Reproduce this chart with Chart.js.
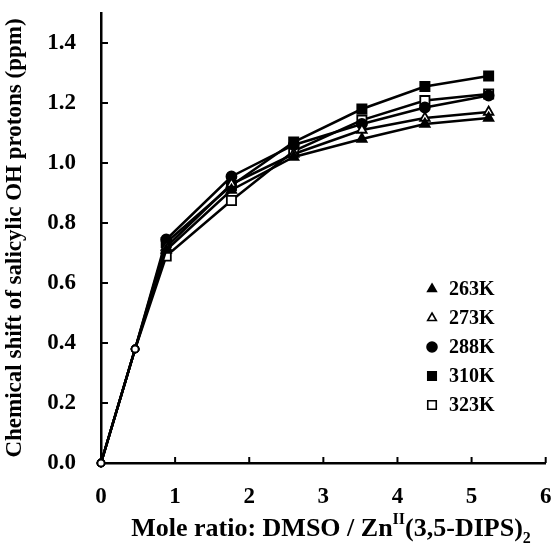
<!DOCTYPE html>
<html>
<head>
<meta charset="utf-8">
<script src="https://cdn.jsdelivr.net/npm/chart.js@4.4.1/dist/chart.umd.min.js"></script>
<style>
  html, body { margin: 0; padding: 0; background: #fff; }
  #wrap { width: 554px; height: 547px; }
</style>
</head>
<body>
<div id="wrap"><canvas id="shiftChart" width="554" height="547"></canvas></div>
<script>
// mole ratio DMSO / Zn(II)(3,5-DIPS)2
const moleRatio = [0, 0.46, 0.88, 1.76, 2.6, 3.52, 4.37, 5.23];

// chemical shift (ppm) for each temperature
const shift263 = [0, 0.38, 0.71, 0.91, 1.02, 1.08, 1.13, 1.15];
const shift273 = [0, 0.38, 0.72, 0.93, 1.03, 1.11, 1.15, 1.17];
const shift288 = [0, 0.38, 0.745, 0.955, 1.06, 1.13, 1.185, 1.225];
const shift310 = [0, 0.38, 0.735, 0.925, 1.07, 1.18, 1.255, 1.29];
const shift323 = [0, 0.38, 0.69, 0.875, 1.04, 1.143, 1.208, 1.23];

const seriesLabels = ["263K", "273K", "288K", "310K", "323K"];
const xTicks = [0, 1, 2, 3, 4, 5, 6];
const yTicks = [0, 0.2, 0.4, 0.6, 0.8, 1.0, 1.2, 1.4];

const yTitle = "Chemical shift of salicylic OH protons (ppm)";
const xTitleMain = "Mole ratio: DMSO / Zn";
const xTitleSup = "II";
const xTitleTail = "(3,5-DIPS)";
const xTitleSub = "2";

const serif = "'Liberation Serif', 'Times New Roman', serif";

// marker look per series: shape, filled?
const markers = [
  { shape: "triangle", filled: true, r: 5.5 },
  { shape: "triangle", filled: false, r: 5.5 },
  { shape: "circle", filled: true, r: 5 },
  { shape: "rect", filled: true, r: 6.5 },
  { shape: "rect", filled: false, r: 6.5 }
];
const allShifts = [shift263, shift273, shift288, shift310, shift323];

// the first two points overlap for every series and show as a small open circle
const early = c => c.dataIndex < 2;

const datasets = allShifts.map((vals, i) => ({
  label: seriesLabels[i],
  data: moleRatio.map((x, j) => ({ x: x, y: vals[j] })),
  borderColor: "#000",
  borderWidth: 2.5,
  pointStyle: c => early(c) ? "circle" : markers[i].shape,
  pointRadius: c => early(c) ? 3.5 : markers[i].r,
  pointBorderWidth: 1.8,
  pointBorderColor: "#000",
  pointBackgroundColor: c => (early(c) || !markers[i].filled) ? "#fff" : "#000",
  showLine: true,
  clip: false
}));

function drawMarker(ctx, m, x, y, r) {
  ctx.beginPath();
  if (m.shape === "circle") {
    ctx.arc(x, y, r, 0, Math.PI * 2);
  } else if (m.shape === "rect") {
    const s = r * Math.SQRT1_2;
    ctx.rect(x - s, y - s, 2 * s, 2 * s);
  } else {
    ctx.moveTo(x, y - r);
    ctx.lineTo(x + r * 0.866, y + r * 0.5);
    ctx.lineTo(x - r * 0.866, y + r * 0.5);
    ctx.closePath();
  }
  ctx.fillStyle = m.filled ? "#000" : "#fff";
  ctx.fill();
  ctx.lineWidth = 1.6;
  ctx.strokeStyle = "#000";
  ctx.stroke();
}

const extras = {
  id: "extras",
  afterDraw(chart) {
    const ctx = chart.ctx;
    const xs = chart.scales.x, ys = chart.scales.y;
    const area = chart.chartArea;
    ctx.save();

    // inward tick marks
    ctx.strokeStyle = "#000";
    ctx.lineWidth = 2;
    xs.ticks.forEach(t => {
      if (t.value === 0) return;
      const px = xs.getPixelForValue(t.value);
      ctx.beginPath();
      ctx.moveTo(px, area.bottom);
      ctx.lineTo(px, area.bottom - 6);
      ctx.stroke();
    });
    ys.ticks.forEach(t => {
      if (t.value === 0) return;
      const py = ys.getPixelForValue(t.value);
      ctx.beginPath();
      ctx.moveTo(area.left, py);
      ctx.lineTo(area.left + 7, py);
      ctx.stroke();
    });

    // legend, lower right
    ctx.textBaseline = "middle";
    ctx.textAlign = "left";
    ctx.font = "bold 20px " + serif;
    seriesLabels.forEach((lab, i) => {
      const ly = 289 + i * 29;
      drawMarker(ctx, markers[i], 432, ly, markers[i].shape === "rect" ? 6 : 5);
      ctx.fillStyle = "#000";
      ctx.fillText(lab, 449, ly + 1);
    });

    // x axis title with super/subscripts
    const big = "bold 26px " + serif, small = "bold 16px " + serif;
    const parts = [
      { t: xTitleMain, f: big, dy: 0 },
      { t: xTitleSup, f: small, dy: -12 },
      { t: xTitleTail, f: big, dy: 0 },
      { t: xTitleSub, f: small, dy: 7 }
    ];
    let total = 0;
    parts.forEach(p => { ctx.font = p.f; p.w = ctx.measureText(p.t).width; total += p.w; });
    let cx = 331 - total / 2;
    const base = 536;
    ctx.textBaseline = "alphabetic";
    ctx.fillStyle = "#000";
    parts.forEach(p => {
      ctx.font = p.f;
      ctx.fillText(p.t, cx, base + p.dy);
      cx += p.w;
    });
    ctx.restore();
  }
};

new Chart(document.getElementById("shiftChart"), {
  type: "scatter",
  data: { datasets },
  plugins: [extras],
  options: {
    responsive: false,
    animation: false,
    layout: { padding: { top: 13, right: 7, left: 0, bottom: 0 } },
    plugins: { legend: { display: false }, tooltip: { enabled: false } },
    scales: {
      x: {
        type: "linear",
        min: 0, max: 6,
        afterBuildTicks: s => { s.ticks = xTicks.map(v => ({ value: v })); },
        afterFit: s => { s.height = 84; s.paddingRight = 0; s.paddingLeft = 0; },
        grid: { display: false },
        border: { display: true, color: "#000", width: 2.5 },
        ticks: {
          color: "#000",
          padding: 12,
          font: { family: serif, size: 23, weight: "bold" },
          callback: v => String(v)
        },
        title: { display: false }
      },
      y: {
        type: "linear",
        min: 0, max: 1.5,
        afterBuildTicks: s => { s.ticks = yTicks.map(v => ({ value: v })); },
        afterFit: s => { s.width = 101; s.paddingTop = 0; s.paddingBottom = 0; },
        grid: { display: false },
        border: { display: true, color: "#000", width: 2.5 },
        ticks: {
          color: "#000",
          padding: 17,
          font: { family: serif, size: 23, weight: "bold" },
          callback: v => v.toFixed(1)
        },
        title: {
          display: true,
          text: yTitle,
          color: "#000",
          padding: { top: 1, bottom: 0 },
          font: { family: serif, size: 23, weight: "bold" }
        }
      }
    }
  }
});
</script>
</body>
</html>
